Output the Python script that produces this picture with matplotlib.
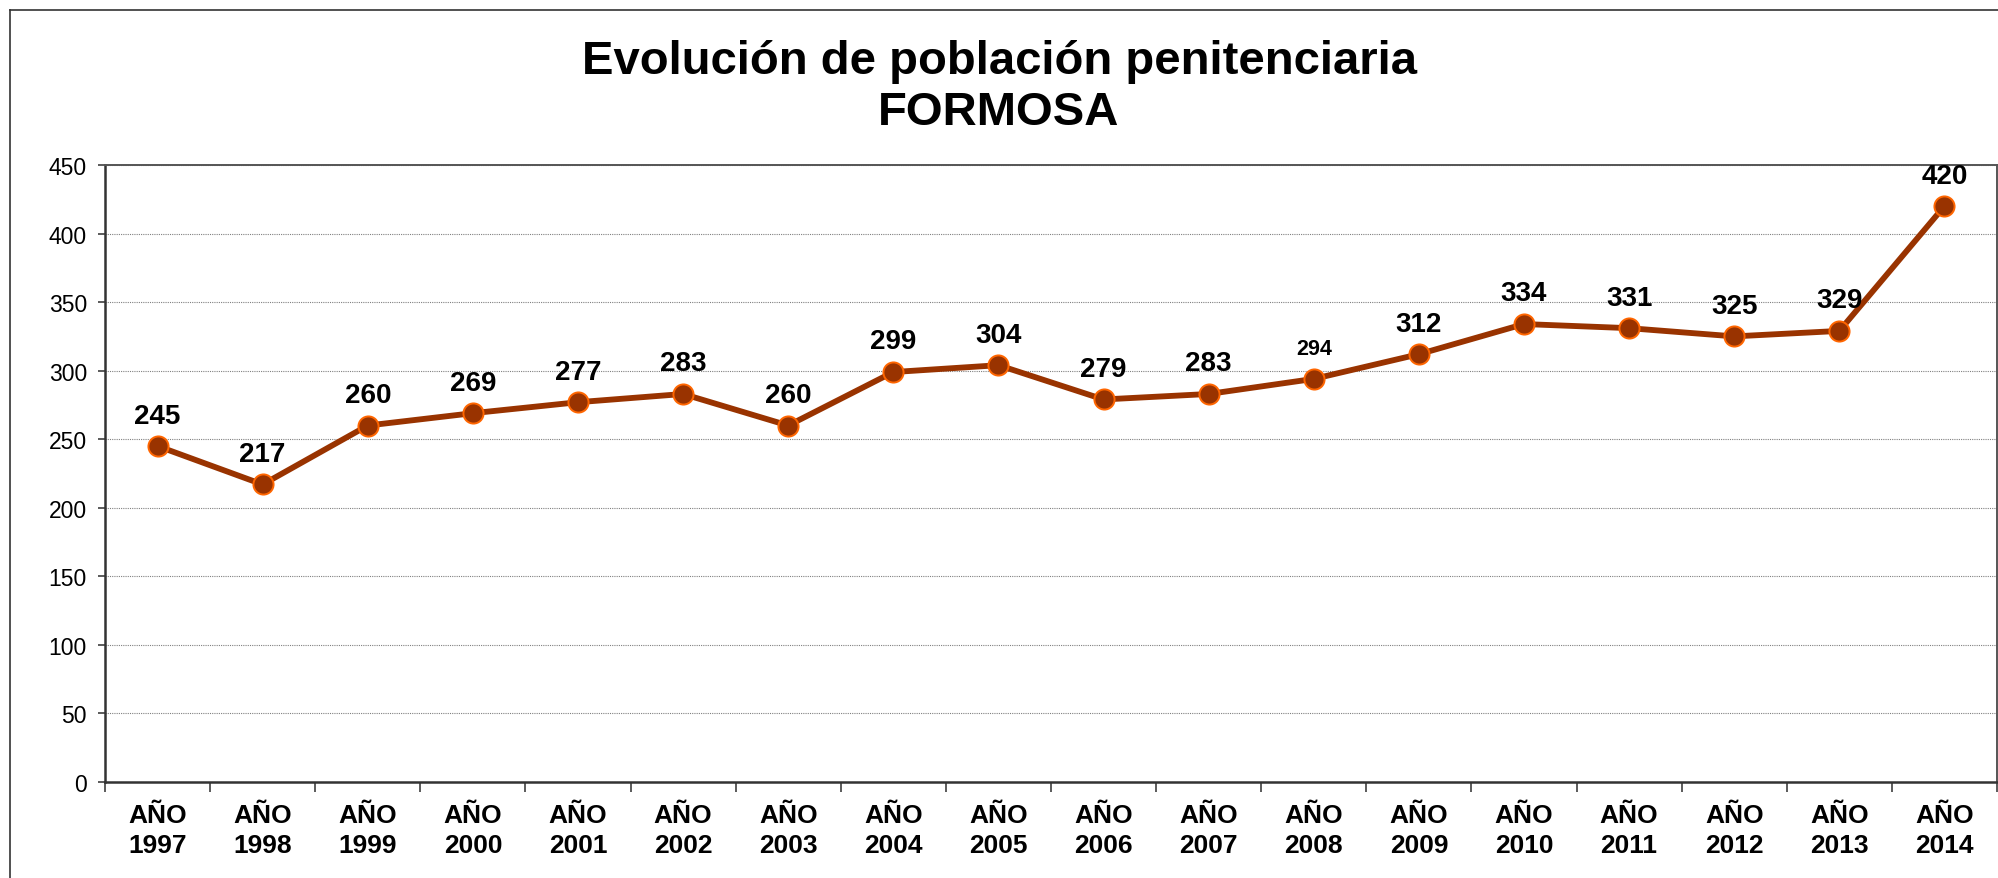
import matplotlib.pyplot as plt
from matplotlib.lines import Line2D
import numpy as np

plt.rcParams['font.family'] = ['Liberation Sans', 'DejaVu Sans']

years = ['1997', '1998', '1999', '2000', '2001', '2002', '2003', '2004', '2005',
         '2006', '2007', '2008', '2009', '2010', '2011', '2012', '2013', '2014']
poblacion = [245, 217, 260, 269, 277, 283, 260, 299, 304,
             279, 283, 294, 312, 334, 331, 325, 329, 420]
tick_labels = ['AÑO\n' + y for y in years]
y_ticks = list(range(0, 451, 50))

fig = plt.figure(figsize=(19.98, 8.79), dpi=100)
ax = fig.add_axes([105 / 1998, 1 - 783 / 879, 1892 / 1998, 617 / 879])

x = np.arange(len(years))
ax.plot(x, poblacion, color='#993300', lw=4.2, marker='o', ms=14.5,
        mfc='#993300', mec='#FF6600', mew=1.4, zorder=3)

for i, v in enumerate(poblacion):
    size = 15.5 if years[i] == '2008' else 20
    ax.annotate(str(v), (i, v), xytext=(0, 22), textcoords='offset points',
                ha='center', va='center', fontsize=size, fontweight='bold')

ax.set_xlim(-0.5, len(years) - 0.5)
ax.set_ylim(0, 450)
ax.set_yticks(y_ticks)
ax.tick_params(axis='y', labelsize=16.5, length=5, width=1.2, color='#404040', pad=8)
ax.set_xticks(x)
ax.set_xticklabels(tick_labels, fontsize=19, fontweight='bold', linespacing=1.3)
ax.set_xticks(np.arange(-0.5, len(years), 1), minor=True)
ax.tick_params(axis='x', which='major', length=0, pad=15)
ax.tick_params(axis='x', which='minor', length=7, width=1.2, color='#404040')

ax.grid(axis='y', color='#808080', ls=(0, (1, 1)), lw=0.8)
ax.set_axisbelow(True)

for side in ['left', 'bottom']:
    ax.spines[side].set_color('#333333')
    ax.spines[side].set_linewidth(1.8)
for side in ['top', 'right']:
    ax.spines[side].set_color('#555555')
    ax.spines[side].set_linewidth(1.4)

fig.text(0.5, 1 - 62 / 879, 'Evolución de población penitenciaria', ha='center',
         va='center', fontsize=34, fontweight='bold')
fig.text(0.5, 1 - 113 / 879, 'FORMOSA', ha='center', va='center',
         fontsize=34, fontweight='bold')

# outer chart frame
fig.add_artist(Line2D([10 / 1998, 10 / 1998], [0, 1 - 11 / 879], color='#333333', lw=1.2))
fig.add_artist(Line2D([10 / 1998, 1], [1 - 11 / 879, 1 - 11 / 879], color='#333333', lw=1.2))

fig.savefig('out.png', dpi=100)
